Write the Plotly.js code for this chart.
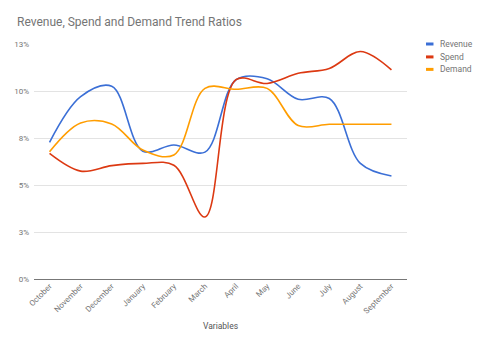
<!DOCTYPE html>
<html>
<head>
<meta charset="utf-8">
<script src="https://cdn.plot.ly/plotly-3.0.1.min.js"></script>
<style>html,body{margin:0;padding:0;background:#fff;}#chart{width:482px;height:345px;}</style>
</head>
<body>
<div id="chart"></div>
<script>
const months = ["October","November","December","January","February","March","April","May","June","July","August","September"];
const revenue = [7.27, 9.7, 10.25, 6.8, 7.13, 6.75, 10.6, 10.65, 9.56, 9.6, 6.15, 5.48];
const spend   = [6.68, 5.74, 6.03, 6.15, 6.05, 3.3, 10.6, 10.4, 10.94, 11.2, 12.1, 11.12];
const demand  = [6.77, 8.3, 8.25, 6.86, 6.6, 10.14, 10.09, 10.14, 8.16, 8.23, 8.23, 8.23];
const seriesNames = ["Revenue", "Spend", "Demand"];
const seriesColors = ["#3b6fd6", "#dc3912", "#ff9d00"];
const yTickVals = [0, 2.5, 5, 7.5, 10, 12.5];
const yTickText = ["0%", "3%", "5%", "8%", "10%", "13%"];

const mk = (name, y, color) => ({
  type: "scatter", mode: "lines", name: name, x: months, y: y,
  line: {color: color, width: 1.6, shape: "spline", smoothing: 1}
});

const data = [
  mk(seriesNames[0], revenue, seriesColors[0]),
  mk(seriesNames[1], spend, seriesColors[1]),
  mk(seriesNames[2], demand, seriesColors[2])
];

// custom compact legend (keys + labels) in paper coordinates
const legY = [1.0, 0.945, 0.892];
const shapes = [], annotations = [];
seriesNames.forEach((n, i) => {
  shapes.push({type: "line", xref: "paper", yref: "paper", x0: 1.051, x1: 1.071, y0: legY[i], y1: legY[i],
               line: {color: seriesColors[i], width: 3}});
  annotations.push({xref: "paper", yref: "paper", x: 1.082, y: legY[i], xanchor: "left", yanchor: "middle",
                    text: n, showarrow: false, font: {size: 8.5, color: "#757575"}});
});

const layout = {
  width: 482, height: 345,
  margin: {l: 34, r: 75, t: 44, b: 66},
  paper_bgcolor: "#fff", plot_bgcolor: "#fff",
  font: {family: "Roboto, Arial, sans-serif", color: "#757575", size: 9},
  title: {text: "Revenue, Spend and Demand Trend Ratios", x: 17/482, xanchor: "left", y: 1 - 22/345, yanchor: "middle",
          font: {size: 12, color: "#757575", family: "Roboto, Arial, sans-serif"}},
  xaxis: {
    type: "category", range: [-0.5, 11.5], tickangle: -45,
    showgrid: false, showline: false, zeroline: false, ticks: "",
    tickfont: {size: 8, color: "#757575"},
    title: {text: "Variables", font: {size: 8.5, color: "#555"}, standoff: 8}
  },
  yaxis: {
    range: [0, 12.5], tickvals: yTickVals, ticktext: yTickText,
    showgrid: true, gridcolor: "#e3e3e3", gridwidth: 1,
    zeroline: true, zerolinecolor: "#777", zerolinewidth: 1,
    ticks: "", tickfont: {size: 8, color: "#757575"}, ticklabelstandoff: 4
  },
  showlegend: false,
  shapes: shapes,
  annotations: annotations
};

Plotly.newPlot("chart", data, layout, {displayModeBar: false, staticPlot: true});
</script>
</body>
</html>
